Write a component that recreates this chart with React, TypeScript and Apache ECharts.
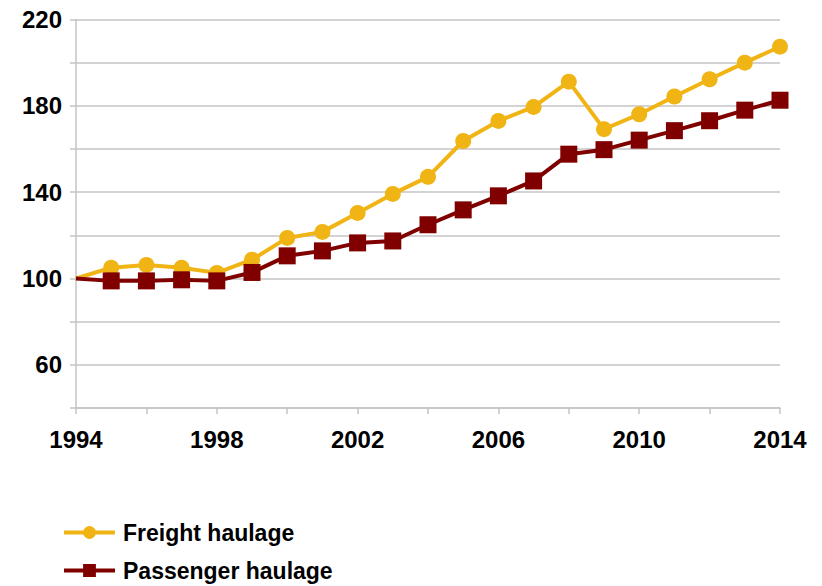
import React, { useEffect, useRef } from "react";
import * as echarts from "echarts";

const years = ["1994","1995","1996","1997","1998","1999","2000","2001","2002","2003","2004","2005","2006","2007","2008","2009","2010","2011","2012","2013","2014"];
const freight = [100,105,106.3,105,102.6,108.7,118.8,121.6,130.4,139.2,147.1,163.7,173,179.5,191.2,169.2,176.1,184.3,192.3,200,207.4];
const passenger = [100,98.9,98.9,99.4,98.9,102.8,110.5,112.8,116.5,117.4,124.9,131.8,138.3,145.2,157.6,159.7,164.1,168.5,173.1,178,182.6];
const yLabels = [60, 100, 140, 180, 220];

export default function App() {
  const ref = useRef<HTMLDivElement>(null);
  useEffect(() => {
    if (!ref.current) return;
    const chart = echarts.init(ref.current, undefined, { renderer: "svg" });
    const font = "'Liberation Sans', Arial, sans-serif";
    const mk = (arr: number[]) => arr.map((v, i) => (i === 0 ? { value: v, symbol: "none" } : v));
    chart.setOption({
      animation: false,
      backgroundColor: "#ffffff",
      grid: { left: 76, right: 42, top: 19.5, bottom: 178, containLabel: false },
      legend: {
        orient: "vertical",
        left: 62,
        top: 521,
        padding: 0,
        itemWidth: 51,
        itemHeight: 16,
        itemGap: 15,
        lineStyle: { width: 4 },
        textStyle: { fontFamily: font, fontWeight: "bold", fontSize: 23, color: "#000", padding: [0, 0, 0, 3] },
        data: ["Freight haulage", "Passenger haulage"],
      },
      xAxis: {
        type: "category",
        data: years,
        boundaryGap: false,
        axisLine: { show: true, lineStyle: { color: "#c4c4c4", width: 1.5 } },
        axisTick: { show: true, interval: 1, length: 6, lineStyle: { color: "#c4c4c4", width: 1.5 } },
        axisLabel: {
          interval: 3,
          margin: 19,
          fontFamily: font,
          fontWeight: "bold",
          fontSize: 24,
          color: "#000",
        },
        splitLine: { show: false },
      },
      yAxis: {
        type: "value",
        min: 40,
        max: 220,
        interval: 20,
        axisLine: { show: true, lineStyle: { color: "#c4c4c4", width: 1.5 } },
        axisTick: { show: true, length: 6, lineStyle: { color: "#c4c4c4", width: 1.5 } },
        axisLabel: {
          margin: 14,
          fontFamily: font,
          fontWeight: "bold",
          fontSize: 24,
          color: "#000",
          formatter: (v: number) => (yLabels.indexOf(v) >= 0 ? String(v) : ""),
        },
        splitLine: { show: true, lineStyle: { color: "#c4c4c4", width: 1.5 } },
      },
      series: [
        {
          name: "Freight haulage",
          type: "line",
          data: mk(freight),
          symbol: "circle",
          symbolSize: 16,
          lineStyle: { color: "#F0B414", width: 4 },
          itemStyle: { color: "#F0B414" },
          z: 2,
        },
        {
          name: "Passenger haulage",
          type: "line",
          data: mk(passenger),
          symbol: "rect",
          symbolSize: 17,
          lineStyle: { color: "#800000", width: 4 },
          itemStyle: { color: "#800000" },
          z: 3,
        },
      ],
    });
    return () => chart.dispose();
  }, []);
  return <div ref={ref} style={{ width: 822, height: 586, position: "absolute", left: 0, top: 0 }} />;
}
